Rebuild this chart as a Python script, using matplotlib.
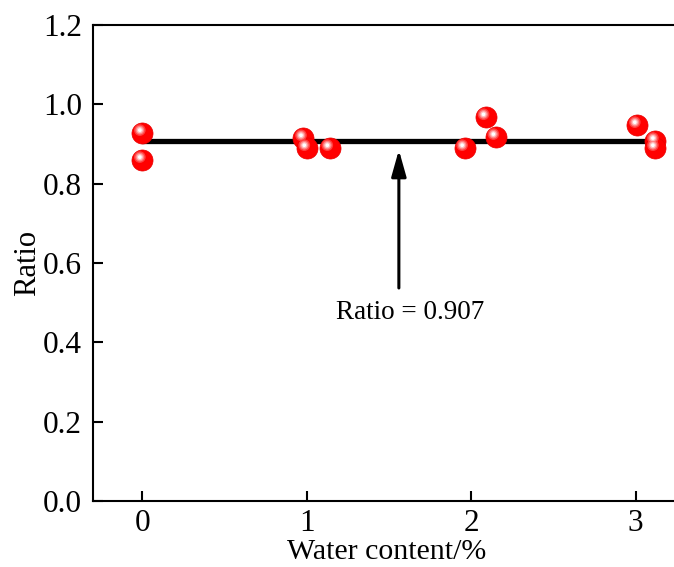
import numpy as np
import matplotlib.pyplot as plt
from matplotlib.transforms import offset_copy

plt.rcParams['font.family'] = ['Liberation Serif', 'DejaVu Serif']

# ----- Data -----
water = [0.0, 0.0, 0.98, 1.0, 1.14, 1.96, 2.09, 2.15, 3.01, 3.12, 3.12]
ratio = [0.928, 0.86, 0.915, 0.89, 0.89, 0.89, 0.968, 0.918, 0.948, 0.908, 0.89]
mean_ratio = 0.907
fit_x = [0.0, 3.12]

fig = plt.figure(figsize=(6.74, 5.67), dpi=100)
ax = fig.add_axes([0.138, 0.1164, 0.871, 0.8395])

# mean line
ax.plot(fit_x, [mean_ratio, mean_ratio], color='black', lw=3.8, solid_capstyle='round', zorder=2)

# sphere-like markers: red body + soft highlight layers
ax.scatter(water, ratio, s=230, color='#ff0000', edgecolors='#e80000', linewidths=0.5, zorder=3)
hl = offset_copy(ax.transData, fig=fig, x=-1.8, y=2.0, units='points')
for size, col in [(70, '#ff4040'), (40, '#ff8080'), (20, '#ffc0c0'), (7, '#ffffff')]:
    ax.scatter(water, ratio, s=size, color=col, edgecolors='none', transform=hl, zorder=4)

# arrow + label
ax.annotate('', xy=(1.56, 0.885), xytext=(1.56, 0.537),
            arrowprops=dict(arrowstyle='-|>,head_length=1.6,head_width=0.45',
                            color='black', lw=2.2, shrinkA=0, shrinkB=0))
ax.text(1.63, 0.476, 'Ratio = 0.907', ha='center', va='center', fontsize=19.5)

ax.set_xlim(-0.3, 3.27)
ax.set_ylim(0, 1.2)
ax.set_xticks([0, 1, 2, 3])
ax.set_yticks(np.arange(0, 1.21, 0.2))
ax.set_yticklabels(['0.0', '0.2', '0.4', '0.6', '0.8', '1.0', '1.2'])
ax.tick_params(direction='in', length=7, width=1.5, labelsize=22.5, pad=8)
ax.tick_params(axis='x', pad=6)
for s in ax.spines.values():
    s.set_linewidth(1.5)
ax.spines['right'].set_visible(False)

ax.set_xlabel('Water content/%', fontsize=21.5)
ax.set_ylabel('Ratio', fontsize=22)
ax.xaxis.set_label_coords(0.5, -0.08)
ax.yaxis.set_label_coords(-0.087, 0.5)

fig.savefig('out.png', dpi=100)
